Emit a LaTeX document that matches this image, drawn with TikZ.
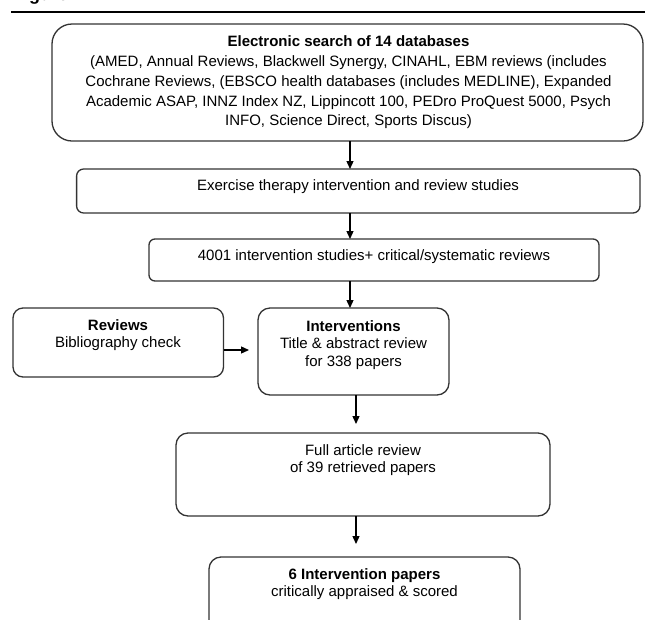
\documentclass[tikz,border=0pt]{standalone}
\usepackage{fontspec}
\setmainfont{Liberation Sans}
\usetikzlibrary{arrows.meta}
\definecolor{boxgray}{HTML}{333333}
\begin{document}
\begin{tikzpicture}[x=1pt,y=-1pt,
  box/.style={draw=boxgray, line width=1.3pt, fill=white, outer sep=0pt, inner sep=0pt, anchor=north west},
  txt/.style={align=center, inner sep=0pt, text=black, font=\fontsize{15}{17.5}\selectfont},
  arr/.style={-{Triangle[length=8pt,width=7pt]}, line width=1.3pt, black}]
\useasboundingbox (0,0) rectangle (645,619);
\clip (0,0) rectangle (645,619);
\fill[white] (0,0) rectangle (645,619);

% cut-off caption and rule
\node[anchor=base west, inner sep=0pt, font=\bfseries\fontsize{18}{20}\selectfont] (figlabel) at (13,0.5) {Figure};
\coordinate (ruleL) at (11,12);
\coordinate (ruleR) at (645,12);
\draw[line width=1.5pt, black] (ruleL) -- (ruleR);

% boxes
\node[box, rounded corners=20pt, minimum width=591pt, minimum height=117pt] (search) at (52,24) {};
\node[box, rounded corners=7pt, minimum width=563.4pt, minimum height=44pt] (exer) at (76.6,169) {};
\node[box, rounded corners=6pt, minimum width=450pt, minimum height=42pt] (found) at (149,239) {};
\node[box, rounded corners=10pt, minimum width=210.5pt, minimum height=69pt] (rev) at (13,308) {};
\node[box, rounded corners=12pt, minimum width=191pt, minimum height=87pt] (interv) at (258,308) {};
\node[box, rounded corners=12pt, minimum width=374pt, minimum height=83pt] (full) at (176,433) {};
\node[box, rounded corners=12pt, minimum width=311pt, minimum height=83pt] (final) at (209,557) {};

% texts
\node[txt, font=\fontsize{15}{19.75}\selectfont] (searchtxt) at (348.5,82.5)
  {\textbf{Electronic search of 14 databases}\\
   (AMED, Annual Reviews, Blackwell Synergy, CINAHL, EBM reviews (includes\\
   Cochrane Reviews, (EBSCO health databases (includes MEDLINE), Expanded\\
   Academic ASAP, INNZ Index NZ, Lippincott 100, PEDro ProQuest 5000, Psych\\
   INFO, Science Direct, Sports Discus)};
\node[txt] (exertxt) at (358,186.5) {Exercise therapy intervention and review studies};
\node[txt] (foundtxt) at (374,256.5) {4001 intervention studies+ critical/systematic reviews};
\node[txt] (revtxt) at (118,335) {\textbf{Reviews}\\Bibliography check};
\node[txt] (intervtxt) at (353.5,345) {\textbf{Interventions}\\Title \& abstract review\\for 338 papers};
\node[txt] (fulltxt) at (363,460) {Full article review\\of 39 retrieved papers};
\node[txt] (finaltxt) at (364.5,584) {\textbf{6 Intervention papers}\\critically appraised \& scored};

% connectors
\coordinate (colA) at (350,0);
\coordinate (colB) at (356,0);
\coordinate (rowR) at (0,350);
\draw[arr] (search.south -| colA) -- (exer.north -| colA);
\draw[arr] (exer.south -| colA) -- (found.north -| colA);
\draw[arr] (found.south -| colA) -- (interv.north -| colA);
\draw[arr, shorten >=9pt] (interv.south -| colB) -- (full.north -| colB);
\draw[arr, shorten >=13pt] (full.south -| colB) -- (final.north -| colB);
\draw[arr, shorten >=9pt] (rev.east |- rowR) -- (interv.west |- rowR);
\end{tikzpicture}
\end{document}
